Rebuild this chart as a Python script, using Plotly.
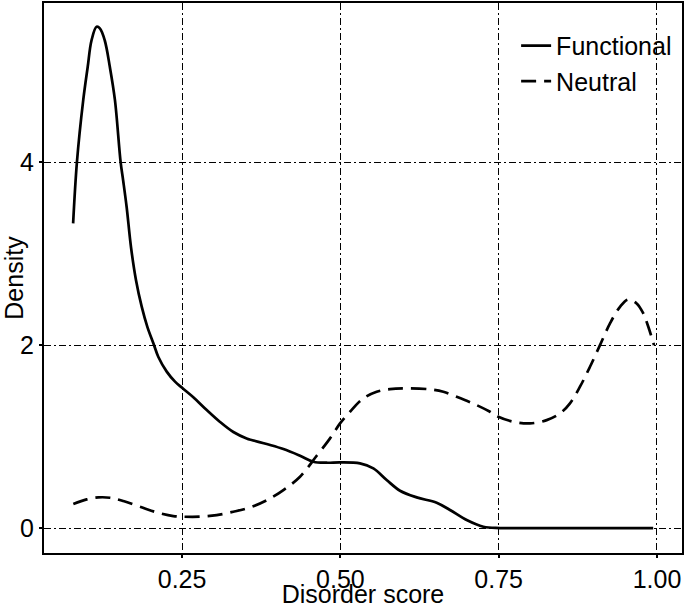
import plotly.graph_objects as go

# values
functional_x = [0.078, 0.084, 0.094, 0.101, 0.107, 0.115, 0.1205, 0.128, 0.136, 0.144,
                0.153, 0.157, 0.1625, 0.1694, 0.1773, 0.1863, 0.1952, 0.2047, 0.2126, 0.2258,
                0.2389, 0.2505, 0.2678, 0.289, 0.310, 0.331, 0.352, 0.3837, 0.410, 0.4363,
                0.4573, 0.4784, 0.4995, 0.531, 0.5521, 0.5731, 0.5942, 0.6205, 0.6521, 0.6731,
                0.6995, 0.7258, 0.7521, 0.800, 0.900, 0.994]
functional_y = [3.33, 4.00, 4.68, 5.04, 5.33, 5.48, 5.46, 5.33, 5.04, 4.68,
                4.00, 3.80, 3.51, 3.07, 2.71, 2.42, 2.20, 2.02, 1.87, 1.71,
                1.60, 1.53, 1.43, 1.29, 1.16, 1.05, 0.98, 0.918, 0.863, 0.790,
                0.725, 0.714, 0.718, 0.707, 0.652, 0.525, 0.408, 0.335, 0.277, 0.197,
                0.087, 0.014, 0.0, 0.0, 0.0, 0.0]

neutral_x = [0.0783, 0.0994, 0.1178, 0.1363, 0.1573, 0.1836, 0.210, 0.2362, 0.252, 0.2784,
             0.3047, 0.331, 0.3573, 0.3837, 0.410, 0.4363, 0.4626, 0.4837, 0.4995, 0.5152,
             0.5363, 0.5573, 0.5784, 0.6047, 0.6415, 0.6626, 0.6836, 0.7152, 0.7363, 0.7494,
             0.7731, 0.7994, 0.8258, 0.8468, 0.8626, 0.8784, 0.8942, 0.910, 0.9258, 0.9416,
             0.9547, 0.9679, 0.9784, 0.9863, 0.9953]
neutral_y = [0.262, 0.313, 0.335, 0.331, 0.295, 0.233, 0.171, 0.131, 0.124, 0.124,
             0.142, 0.178, 0.225, 0.303, 0.415, 0.561, 0.790, 0.980, 1.144, 1.271,
             1.417, 1.490, 1.519, 1.527, 1.516, 1.490, 1.435, 1.344, 1.271, 1.216,
             1.162, 1.144, 1.180, 1.253, 1.363, 1.545, 1.763, 2.000, 2.237, 2.419,
             2.499, 2.455, 2.346, 2.200, 2.000]

x_ticks = [0.25, 0.50, 0.75, 1.00]
x_ticklabels = ["0.25", "0.50", "0.75", "1.00"]
y_ticks = [0, 2, 4]

font_family = "Liberation Sans, Arial, sans-serif"

fig = go.Figure()
fig.add_trace(
    go.Scatter(
        x=functional_x,
        y=functional_y,
        name="Functional",
        mode="lines",
        line=dict(color="black", width=2.7, shape="spline", smoothing=1.0),
    )
)
fig.add_trace(
    go.Scatter(
        x=neutral_x,
        y=neutral_y,
        name="Neutral",
        mode="lines",
        line=dict(color="black", width=2.7, dash="15px,8px", shape="spline", smoothing=1.0),
    )
)

grid = dict(
    showgrid=True,
    gridcolor="black",
    gridwidth=1.4,
    griddash="7px,3px,2px,3px",
    showline=True,
    linecolor="black",
    linewidth=2,
    mirror=True,
    ticks="outside",
    ticklen=3,
    tickwidth=1.5,
    tickcolor="black",
    zeroline=False,
    automargin=False,
    tickfont=dict(size=25, color="black"),
)

fig.update_xaxes(
    **grid,
    range=[0.032, 1.0395],
    tickvals=x_ticks,
    ticktext=x_ticklabels,
    title=dict(text="Disorder score", font=dict(size=25, color="black")),
)
fig.update_yaxes(
    **grid,
    range=[-0.273, 5.74],
    tickvals=y_ticks,
    title=dict(text="Density", font=dict(size=25, color="black")),
)

fig.update_layout(
    width=685,
    height=608,
    autosize=False,
    template="plotly_white",
    plot_bgcolor="white",
    paper_bgcolor="white",
    font=dict(family=font_family, color="black"),
    margin=dict(l=44, r=3, t=3, b=55),
    legend=dict(
        x=0.74,
        y=0.964,
        xanchor="left",
        yanchor="top",
        bgcolor="rgba(0,0,0,0)",
        font=dict(size=25, color="black"),
        tracegroupgap=0,
    ),
)

# drop the browser's default 8px page margin so the figure sits at the corner
fig.write_html(
    "out.html",
    config={"displayModeBar": False},
    post_script="document.body.style.margin = '0px';",
)
